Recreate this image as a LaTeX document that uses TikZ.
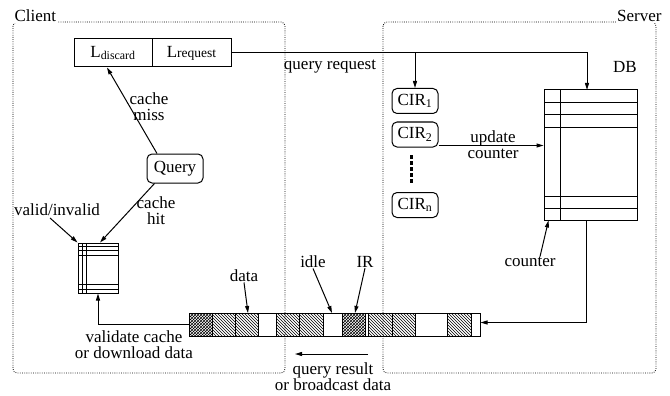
\documentclass[tikz,border=0pt]{standalone}
\usepackage{fontspec}
\setmainfont{Liberation Serif}
\usetikzlibrary{arrows.meta,patterns}
\tikzset{
  box/.style={draw,inner sep=0pt},
  rbox/.style={draw,rounded corners=5pt,inner sep=0pt},
  area/.style={line width=0.8pt,dash pattern=on 0.8pt off 1.4pt,rounded corners=4pt},
  lbl/.style={inner sep=0pt,align=center},
  conn/.style={-{Triangle[length=7pt,width=4pt]}}
}
\begin{document}
\begin{tikzpicture}[x=1pt,y=-1pt,line width=1pt,font=\fontsize{17}{16}\selectfont]
\useasboundingbox (0,0) rectangle (670,396);
\draw[area] (13,22) rectangle (285,373);
\draw[area] (383,22) rectangle (656,373);
\node[fill=white,inner sep=1pt,anchor=base west] (client) at (13,22) {Client};
\node[fill=white,inner sep=1pt,anchor=base east] (server) at (663,22) {Server};

\node[box,minimum width=78pt,minimum height=28pt] (ldis) at (113,53) {L\textsubscript{discard}};
\node[box,minimum width=79pt,minimum height=28pt] (lreq) at (191.5,53) {L{\fontsize{13.5}{15}\selectfont request}};
\node[rbox,minimum width=56pt,minimum height=29pt] (query) at (175,168.5) {Query};
\node[rbox,minimum width=46pt,minimum height=25pt] (cir1) at (415,101) {CIR\textsubscript{1}};
\node[rbox,minimum width=46pt,minimum height=25pt] (cir2) at (415,134.5) {CIR\textsubscript{2}};
\node[rbox,minimum width=46pt,minimum height=25pt] (cirn) at (415,205) {CIR\textsubscript{n}};
\draw[line width=3pt,dash pattern=on 4pt off 2pt] (411,155) -- (411,184);

\node[box,minimum width=93pt,minimum height=130pt] (db) at (590.5,155) {};
\draw (560,90) -- (560,220);
\foreach \y in {103,115,127,196,208}
  \draw (544,\y) -- (637,\y);
\node[box,minimum width=40pt,minimum height=50pt] (cache) at (98,268) {};
\foreach \x in {82,86}
  \draw (\x,243) -- (\x,293);
\foreach \y in {246,250,255,284,289}
  \draw (78,\y) -- (118,\y);

\foreach \a/\b in {189/212,342/365}
  \fill[pattern=crosshatch] (\a,313) rectangle (\b,336);
\foreach \a/\b in {212/235,235/258,276/299,299/323,368/392,392/415,447/471}
  \fill[pattern=north west lines] (\a,313) rectangle (\b,336);
\node[box,minimum width=291pt,minimum height=23pt] (strip) at (334.5,324.5) {};
\foreach \x in {212,235,258,276,299,323,342,365,368,392,415,447,471}
  \draw (\x,313) -- (\x,336);

\node[lbl] (qreq) at (330,67) {query request};
\node[lbl] (dbl) at (625,67) {DB};
\node[lbl] (miss) at (149,107) {cache\\miss};
\node[lbl] (hit) at (156,211) {cache\\hit};
\node[lbl] (valid) at (57,210) {valid/invalid};
\node[lbl] (upd) at (493,145) {update\\counter};
\node[lbl] (cnt) at (530,262) {counter};
\node[lbl] (datal) at (244,276) {data};
\node[lbl] (idle) at (313,262) {idle};
\node[lbl] (ir) at (365,262) {IR};
\node[lbl] (valc) at (134,345) {validate cache\\or download data};
\node[lbl] (qres) at (333,377) {query result\\or broadcast data};

\coordinate (dbin) at (587,90);
\coordinate (dbout) at (586,220);
\coordinate (qr1) at (368,354);
\coordinate (qr2) at (295,354);
\draw[conn] (lreq.east) -| (dbin);
\draw[conn] (cir1.north |- lreq.east) -- (cir1.north);
\draw[conn] ([yshift=2pt]cir2.south east) -- ([yshift=2pt]cir2.south east -| db.west);
\draw[conn] ([xshift=-18pt]query.north) -- ([xshift=-6pt]ldis.south);
\draw[conn] ([xshift=8pt]query.south west) -- ([xshift=2pt]cache.north);
\draw[conn] (50,218) -- (cache.north west);
\draw[conn] (strip.west) -| (cache.south);
\draw[conn] (dbout) |- ([yshift=2pt]strip.east);
\draw[conn] ([xshift=10pt]cnt.north) -- ([xshift=5pt]db.south west);
\draw[conn] (datal.south) -- (248,313);
\draw[conn] (idle.south) -- (332,313);
\draw[conn] (ir.south) -- (355,313);
\draw[conn] (qr1) -- (qr2);
\end{tikzpicture}
\end{document}
